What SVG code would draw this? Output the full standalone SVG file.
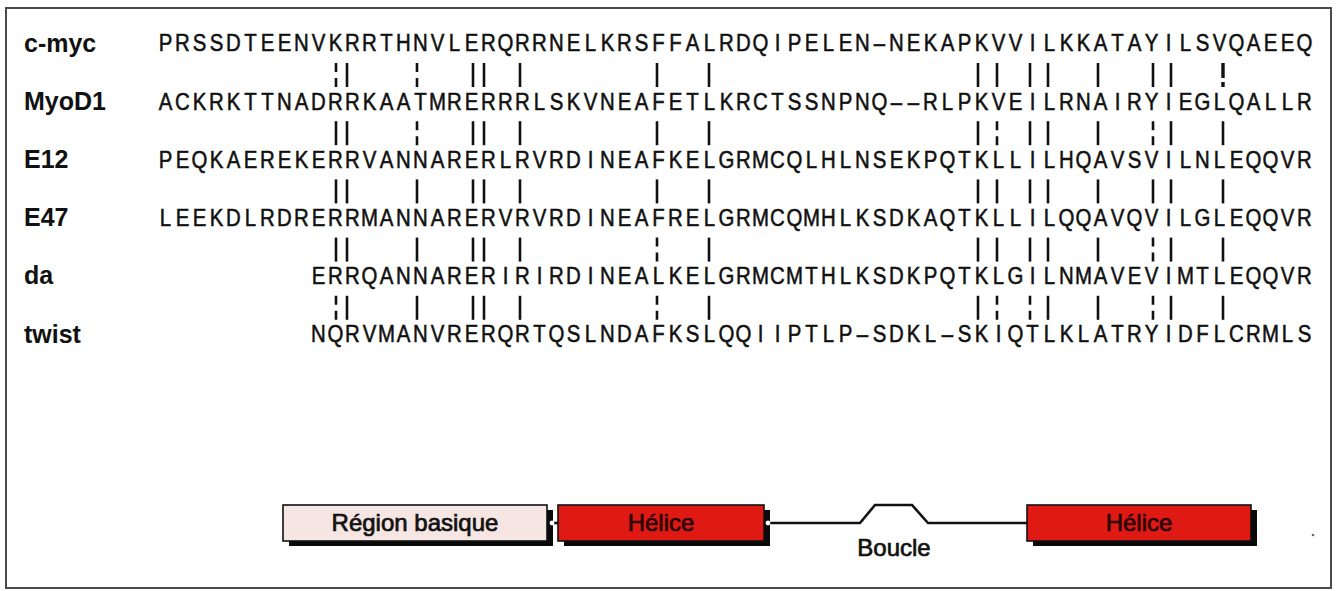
<svg xmlns="http://www.w3.org/2000/svg" width="1336" height="591" viewBox="0 0 1336 591">
  <style>
    .lbl { font-family: "Liberation Sans", Arial, sans-serif; font-weight: bold; font-size: 25px; fill: #111; }
    .seq { font-family: "Liberation Sans", Arial, sans-serif; font-size: 24px; fill: #111; stroke: #111; stroke-width: 0.55; text-anchor: middle; }
    .bar { stroke: #111; stroke-width: 2.6; fill: none; }
    .dash { stroke: #111; stroke-width: 2.6; fill: none; stroke-dasharray: 9 6; }
    .box { stroke: #111; stroke-width: 1.6; }
    .shadow { fill: #0a0a0a; }
    .basic { fill: #f6e6e3; }
    .helix { fill: #df1a14; }
    .dom { font-family: "Liberation Sans", Arial, sans-serif; font-size: 24px; text-anchor: middle; stroke-width: 0.7; }
    .wire { stroke: #111; stroke-width: 2.6; fill: none; stroke-linejoin: miter; }
    .bead { fill: #fff; }
  </style>
  <defs>
    <line id="b" class="bar" x1="0" y1="0" x2="0" y2="24"/>
    <line id="d" class="dash" x1="0" y1="0" x2="0" y2="24"/>
  </defs>

  <!-- frame -->
  <rect x="6" y="8" width="1325" height="580" fill="#fff" stroke="#4a4a4a" stroke-width="2"/>

  <!-- protein names -->
  <g id="labels">
    <text class="lbl" x="24" y="51.5">c-myc</text>
    <text class="lbl" x="24" y="109.7">MyoD1</text>
    <text class="lbl" x="24" y="167.9">E12</text>
    <text class="lbl" x="24" y="226.1">E47</text>
    <text class="lbl" x="24" y="284.3">da</text>
    <text class="lbl" x="24" y="342.5">twist</text>
  </g>

  <!-- sequence rows: one fixed 17 px cell per residue, glyphs condensed to 85 % (20 units = 17 px) -->
  <g transform="scale(0.85 1)">
    <g id="row-cmyc">
      <text class="seq" y="51.5" x="194.7 214.7 234.7 254.7 274.7 294.7 314.7 334.7 354.7 374.7 394.7 414.7 434.7 454.7 474.7 494.7 514.7 534.7 554.7 574.7 594.7 614.7 634.7 654.7 674.7 694.7 714.7 734.7 754.7 774.7 794.7 814.7 834.7 854.7 874.7 894.7 914.7 934.7 954.7 974.7 994.7 1014.7 1034.7 1054.7 1074.7 1094.7 1114.7 1134.7 1154.7 1174.7 1194.7 1214.7 1234.7 1254.7 1274.7 1294.7 1314.7 1334.7 1354.7 1374.7 1394.7 1414.7 1434.7 1454.7 1474.7 1494.7 1514.7 1534.7">PRSSDTEENVKRRTHNVLERQRRNELKRSFFALRDQIPELEN–NEKAPKVVILKKATAYILSVQAEEQ</text>
    </g>
    <g id="row-myod1">
      <text class="seq" y="109.7" x="194.7 214.7 234.7 254.7 274.7 294.7 314.7 334.7 354.7 374.7 394.7 414.7 434.7 454.7 474.7 494.7 514.7 534.7 554.7 574.7 594.7 614.7 634.7 654.7 674.7 694.7 714.7 734.7 754.7 774.7 794.7 814.7 834.7 854.7 874.7 894.7 914.7 934.7 954.7 974.7 994.7 1014.7 1034.7 1054.7 1074.7 1094.7 1114.7 1134.7 1154.7 1174.7 1194.7 1214.7 1234.7 1254.7 1274.7 1294.7 1314.7 1334.7 1354.7 1374.7 1394.7 1414.7 1434.7 1454.7 1474.7 1494.7 1514.7 1534.7">ACKRKTTNADRRKAATMRERRRLSKVNEAFETLKRCTSSNPNQ––RLPKVEILRNAIRYIEGLQALLR</text>
    </g>
    <g id="row-e12">
      <text class="seq" y="167.9" x="194.7 214.7 234.7 254.7 274.7 294.7 314.7 334.7 354.7 374.7 394.7 414.7 434.7 454.7 474.7 494.7 514.7 534.7 554.7 574.7 594.7 614.7 634.7 654.7 674.7 694.7 714.7 734.7 754.7 774.7 794.7 814.7 834.7 854.7 874.7 894.7 914.7 934.7 954.7 974.7 994.7 1014.7 1034.7 1054.7 1074.7 1094.7 1114.7 1134.7 1154.7 1174.7 1194.7 1214.7 1234.7 1254.7 1274.7 1294.7 1314.7 1334.7 1354.7 1374.7 1394.7 1414.7 1434.7 1454.7 1474.7 1494.7 1514.7 1534.7">PEQKAEREKERRVANNARERLRVRDINEAFKELGRMCQLHLNSEKPQTKLLILHQAVSVILNLEQQVR</text>
    </g>
    <g id="row-e47">
      <text class="seq" y="226.1" x="194.7 214.7 234.7 254.7 274.7 294.7 314.7 334.7 354.7 374.7 394.7 414.7 434.7 454.7 474.7 494.7 514.7 534.7 554.7 574.7 594.7 614.7 634.7 654.7 674.7 694.7 714.7 734.7 754.7 774.7 794.7 814.7 834.7 854.7 874.7 894.7 914.7 934.7 954.7 974.7 994.7 1014.7 1034.7 1054.7 1074.7 1094.7 1114.7 1134.7 1154.7 1174.7 1194.7 1214.7 1234.7 1254.7 1274.7 1294.7 1314.7 1334.7 1354.7 1374.7 1394.7 1414.7 1434.7 1454.7 1474.7 1494.7 1514.7 1534.7">LEEKDLRDRERRMANNARERVRVRDINEAFRELGRMCQMHLKSDKAQTKLLILQQAVQVILGLEQQVR</text>
    </g>
    <g id="row-da">
      <text class="seq" y="284.3" x="374.7 394.7 414.7 434.7 454.7 474.7 494.7 514.7 534.7 554.7 574.7 594.7 614.7 634.7 654.7 674.7 694.7 714.7 734.7 754.7 774.7 794.7 814.7 834.7 854.7 874.7 894.7 914.7 934.7 954.7 974.7 994.7 1014.7 1034.7 1054.7 1074.7 1094.7 1114.7 1134.7 1154.7 1174.7 1194.7 1214.7 1234.7 1254.7 1274.7 1294.7 1314.7 1334.7 1354.7 1374.7 1394.7 1414.7 1434.7 1454.7 1474.7 1494.7 1514.7 1534.7">ERRQANNARERIRIRDINEALKELGRMCMTHLKSDKPQTKLGILNMAVEVIMTLEQQVR</text>
    </g>
    <g id="row-twist">
      <text class="seq" y="342.5" x="374.7 394.7 414.7 434.7 454.7 474.7 494.7 514.7 534.7 554.7 574.7 594.7 614.7 634.7 654.7 674.7 694.7 714.7 734.7 754.7 774.7 794.7 814.7 834.7 854.7 874.7 894.7 914.7 934.7 954.7 974.7 994.7 1014.7 1034.7 1054.7 1074.7 1094.7 1114.7 1134.7 1154.7 1174.7 1194.7 1214.7 1234.7 1254.7 1274.7 1294.7 1314.7 1334.7 1354.7 1374.7 1394.7 1414.7 1434.7 1454.7 1474.7 1494.7 1514.7 1534.7">NQRVMANVRERQRTQSLNDAFKSLQQIIPTLP–SDKL–SKIQTLKLATRYIDFLCRMLS</text>
    </g>
  </g>

  <!-- conservation ticks between neighbouring rows: | identical, : similar -->
  <g id="conservation-marks">
    <g transform="translate(0,63)">
      <use href="#d" x="336"/><use href="#b" x="347"/><use href="#d" x="417"/><use href="#b" x="473"/><use href="#b" x="484"/><use href="#b" x="520"/><use href="#b" x="657"/><use href="#b" x="709"/>
      <use href="#b" x="978"/><use href="#b" x="997"/><use href="#b" x="1030"/><use href="#b" x="1048"/><use href="#b" x="1098"/><use href="#b" x="1153"/><use href="#b" x="1171"/>
      <path d="M1223 0v15M1223 19v5" stroke="#111" stroke-width="3.4"/>
    </g>
    <g transform="translate(0,121.2)">
      <use href="#b" x="336"/><use href="#b" x="347"/><use href="#d" x="417"/><use href="#b" x="473"/><use href="#b" x="484"/><use href="#b" x="520"/><use href="#b" x="657"/><use href="#b" x="709"/>
      <use href="#b" x="978"/><use href="#d" x="997"/><use href="#b" x="1030"/><use href="#b" x="1048"/><use href="#b" x="1098"/><use href="#d" x="1153"/><use href="#b" x="1171"/><use href="#b" x="1223"/>
    </g>
    <g transform="translate(0,179.4)">
      <use href="#b" x="336"/><use href="#b" x="347"/><use href="#b" x="417"/><use href="#b" x="473"/><use href="#b" x="484"/><use href="#b" x="520"/><use href="#b" x="657"/><use href="#b" x="709"/>
      <use href="#b" x="978"/><use href="#b" x="997"/><use href="#b" x="1030"/><use href="#b" x="1048"/><use href="#b" x="1098"/><use href="#b" x="1153"/><use href="#b" x="1171"/><use href="#b" x="1223"/>
    </g>
    <g transform="translate(0,237.6)">
      <use href="#b" x="336"/><use href="#b" x="347"/><use href="#b" x="417"/><use href="#b" x="473"/><use href="#b" x="484"/><use href="#b" x="520"/><use href="#d" x="657"/><use href="#b" x="709"/>
      <use href="#b" x="978"/><use href="#b" x="997"/><use href="#b" x="1030"/><use href="#b" x="1048"/><use href="#b" x="1098"/><use href="#d" x="1153"/><use href="#b" x="1171"/><use href="#b" x="1223"/>
    </g>
    <g transform="translate(0,295.8)">
      <use href="#d" x="336"/><use href="#b" x="347"/><use href="#b" x="417"/><use href="#b" x="473"/><use href="#b" x="484"/><use href="#b" x="520"/><use href="#d" x="657"/><use href="#b" x="709"/>
      <use href="#b" x="978"/><use href="#d" x="997"/><use href="#d" x="1030"/><use href="#b" x="1048"/><use href="#b" x="1098"/><use href="#d" x="1153"/><use href="#b" x="1171"/><use href="#b" x="1223"/>
    </g>
  </g>

  <!-- bHLH domain map -->
  <g id="connectors">
    <line class="wire" x1="547" y1="523" x2="558" y2="523"/>
    <path class="wire" d="M764 523H860L875 505H912L928 523H1027"/>
  </g>
  <g id="basic-region">
    <rect class="shadow" x="289" y="510" width="264" height="36"/>
    <rect class="box basic" x="283" y="505" width="264" height="36"/>
    <text class="dom" x="415" y="531" fill="#111" stroke="#111">Région basique</text>
  </g>
  <g id="helix-1">
    <rect class="shadow" x="564" y="510" width="206" height="36"/>
    <rect class="box helix" x="558" y="505" width="206" height="36"/>
    <text class="dom" x="661" y="531" fill="#2a0505" stroke="#2a0505">Hélice</text>
  </g>
  <g id="loop">
    <text class="dom" x="894" y="556" font-size="22" fill="#111" stroke="#111">Boucle</text>
  </g>
  <g id="helix-2">
    <rect class="shadow" x="1033" y="510" width="224" height="36"/>
    <rect class="box helix" x="1027" y="505" width="224" height="36"/>
    <text class="dom" x="1139" y="531" fill="#2a0505" stroke="#2a0505">Hélice</text>
  </g>
  <circle class="bead" cx="552" cy="523" r="2.4"/>
  <circle class="bead" cx="768" cy="523" r="2.4"/>
  <circle cx="1313" cy="535" r="1.3" fill="#666"/>
</svg>
